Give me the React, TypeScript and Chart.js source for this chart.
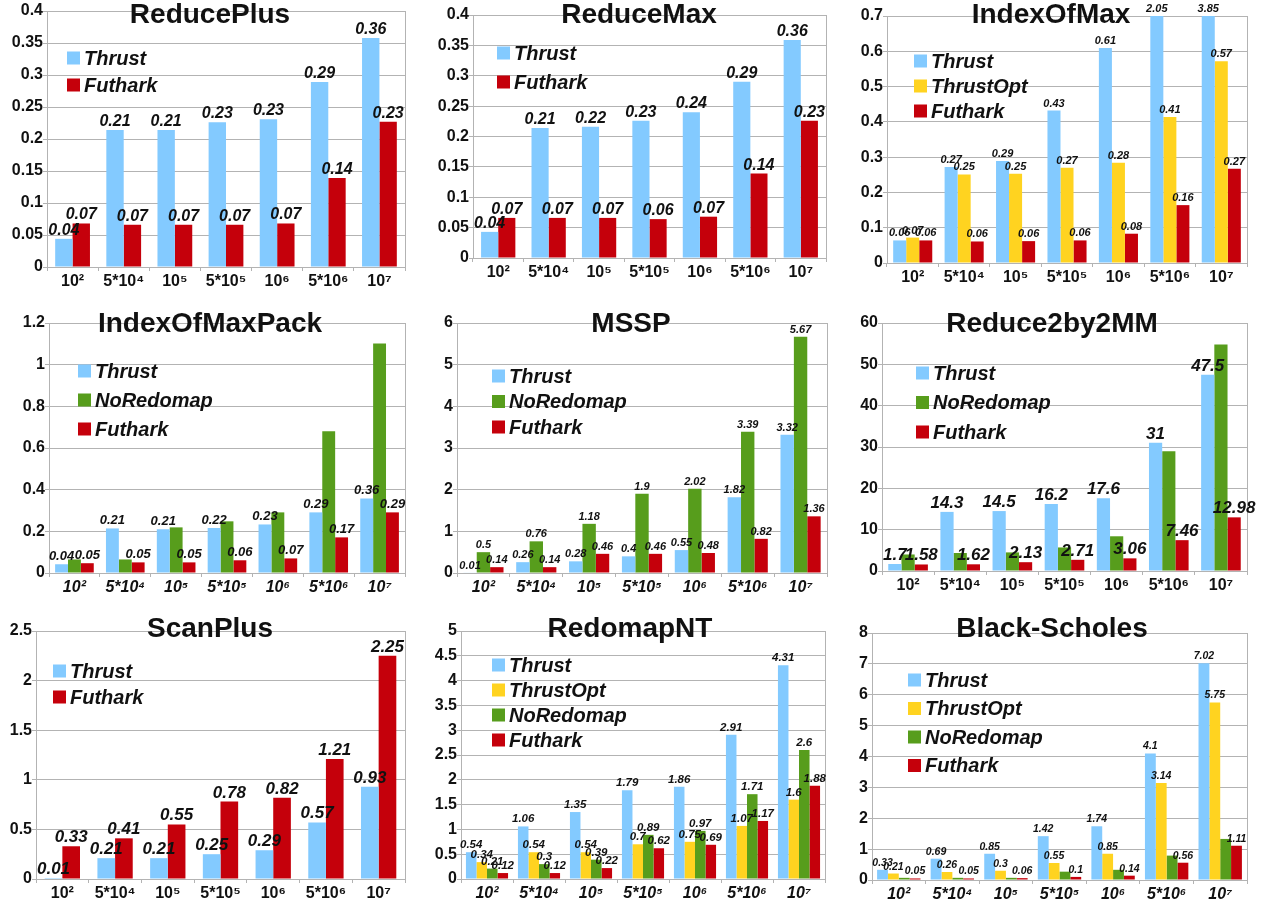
import React, { useEffect, useRef } from "react";
import { Chart, registerables } from "chart.js";

Chart.register(...registerables);

// ---------- data ----------
const categories = ["10²", "5*10⁴", "10⁵", "5*10⁵", "10⁶", "5*10⁶", "10⁷"];

const rpThrust = [0.044, 0.214, 0.214, 0.226, 0.231, 0.289, 0.358];
const rpFuthark = [0.068, 0.066, 0.066, 0.066, 0.068, 0.139, 0.227];

const rmThrust = [0.043, 0.214, 0.216, 0.226, 0.24, 0.29, 0.359];
const rmFuthark = [0.066, 0.066, 0.066, 0.064, 0.068, 0.139, 0.226];

const imThrust = [0.064, 0.272, 0.289, 0.432, 0.609, 2.05, 3.85];
const imThrustOpt = [0.072, 0.251, 0.253, 0.27, 0.284, 0.414, 0.572];
const imFuthark = [0.064, 0.061, 0.062, 0.064, 0.083, 0.164, 0.267];

const impThrust = [0.042, 0.214, 0.21, 0.216, 0.233, 0.291, 0.358];
const impNoRedomap = [0.065, 0.065, 0.219, 0.248, 0.291, 0.68, 1.102];
const impFuthark = [0.047, 0.051, 0.051, 0.061, 0.07, 0.171, 0.291];

const msThrust = [0.01, 0.26, 0.28, 0.4, 0.55, 1.82, 3.32];
const msNoRedomap = [0.5, 0.76, 1.18, 1.9, 2.02, 3.39, 5.67];
const msFuthark = [0.14, 0.14, 0.46, 0.46, 0.48, 0.82, 1.36];

const r2Thrust = [1.7, 14.3, 14.5, 16.2, 17.6, 31, 47.5];
const r2NoRedomap = [4.0, 4.35, 4.5, 5.7, 8.4, 29, 54.8];
const r2Futhark = [1.58, 1.62, 2.13, 2.71, 3.06, 7.46, 12.98];

const spThrust = [0.01, 0.21, 0.21, 0.25, 0.29, 0.57, 0.93];
const spFuthark = [0.33, 0.41, 0.55, 0.78, 0.82, 1.21, 2.25];

const rnThrust = [0.54, 1.06, 1.35, 1.79, 1.86, 2.91, 4.31];
const rnThrustOpt = [0.34, 0.54, 0.54, 0.7, 0.75, 1.07, 1.6];
const rnNoRedomap = [0.21, 0.3, 0.39, 0.89, 0.97, 1.71, 2.6];
const rnFuthark = [0.12, 0.12, 0.22, 0.62, 0.69, 1.17, 1.88];

const bsThrust = [0.33, 0.69, 0.85, 1.42, 1.74, 4.1, 7.02];
const bsThrustOpt = [0.21, 0.26, 0.3, 0.55, 0.85, 3.14, 5.75];
const bsNoRedomap = [0.07, 0.07, 0.07, 0.27, 0.33, 0.79, 1.33];
const bsFuthark = [0.05, 0.05, 0.06, 0.1, 0.14, 0.56, 1.11];

// ---------- styles ----------
const COLORS: Record<string, string> = {
  Thrust: "#83caff",
  ThrustOpt: "#ffd320",
  NoRedomap: "#579d1c",
  Futhark: "#c5000b",
};
const FONT = '"Liberation Sans", Arial, Helvetica, sans-serif';
const TEXT = "#111111";
const GRID = "#b3b3b3";

const fmt = (v: number) => String(parseFloat(Number(v).toFixed(2)));

type Series = { name: string; values: number[]; labels: boolean };
type PanelSpec = {
  title: string;
  series: Series[];
  yMax: number;
  yStep: number;
  cell: [number, number, number, number];
  plot: [number, number, number, number];
  titlePos: [number, number];
  legend: [number, number, number];
  labelSize: number;
  italicX: boolean;
  catPct: number;
};

const S = (name: string, values: number[], labels = true): Series => ({ name, values, labels });

const panels: PanelSpec[] = [
  {
    title: "ReducePlus",
    series: [S("Thrust", rpThrust), S("Futhark", rpFuthark)],
    yMax: 0.4, yStep: 0.05,
    cell: [0, 0, 420, 300], plot: [47, 11, 405, 267],
    titlePos: [210, 23], legend: [67, 58, 27],
    labelSize: 16, italicX: false, catPct: 0.68,
  },
  {
    title: "ReduceMax",
    series: [S("Thrust", rmThrust), S("Futhark", rmFuthark)],
    yMax: 0.4, yStep: 0.05,
    cell: [420, 0, 420, 300], plot: [473, 15, 826, 258],
    titlePos: [639, 23], legend: [497, 53, 29],
    labelSize: 16, italicX: false, catPct: 0.68,
  },
  {
    title: "IndexOfMax",
    series: [S("Thrust", imThrust), S("ThrustOpt", imThrustOpt), S("Futhark", imFuthark)],
    yMax: 0.7, yStep: 0.1,
    cell: [840, 0, 422, 300], plot: [887, 16, 1247, 263],
    titlePos: [1051, 23], legend: [914, 61, 25],
    labelSize: 11, italicX: false, catPct: 0.76,
  },
  {
    title: "IndexOfMaxPack",
    series: [S("Thrust", impThrust), S("NoRedomap", impNoRedomap, false), S("Futhark", impFuthark)],
    yMax: 1.2, yStep: 0.2,
    cell: [0, 300, 420, 308], plot: [49, 323, 405, 573],
    titlePos: [210, 332], legend: [78, 371, 29],
    labelSize: 13, italicX: true, catPct: 0.76,
  },
  {
    title: "MSSP",
    series: [S("Thrust", msThrust), S("NoRedomap", msNoRedomap), S("Futhark", msFuthark)],
    yMax: 6, yStep: 1,
    cell: [420, 300, 420, 308], plot: [457, 323, 827, 573],
    titlePos: [631, 332], legend: [492, 376, 25.5],
    labelSize: 11, italicX: true, catPct: 0.76,
  },
  {
    title: "Reduce2by2MM",
    series: [S("Thrust", r2Thrust), S("NoRedomap", r2NoRedomap, false), S("Futhark", r2Futhark)],
    yMax: 60, yStep: 10,
    cell: [840, 300, 422, 308], plot: [882, 323, 1247, 571],
    titlePos: [1052, 332], legend: [916, 373, 29.5],
    labelSize: 17, italicX: false, catPct: 0.76,
  },
  {
    title: "ScanPlus",
    series: [S("Thrust", spThrust), S("Futhark", spFuthark)],
    yMax: 2.5, yStep: 0.5,
    cell: [0, 608, 420, 294], plot: [36, 631, 405, 879],
    titlePos: [210, 637], legend: [53, 671, 26],
    labelSize: 17, italicX: false, catPct: 0.67,
  },
  {
    title: "RedomapNT",
    series: [
      S("Thrust", rnThrust), S("ThrustOpt", rnThrustOpt),
      S("NoRedomap", rnNoRedomap), S("Futhark", rnFuthark),
    ],
    yMax: 5, yStep: 0.5,
    cell: [420, 608, 420, 294], plot: [461, 631, 825, 879],
    titlePos: [630, 637], legend: [492, 665, 25],
    labelSize: 11.5, italicX: true, catPct: 0.81,
  },
  {
    title: "Black-Scholes",
    series: [
      S("Thrust", bsThrust), S("ThrustOpt", bsThrustOpt),
      S("NoRedomap", bsNoRedomap, false), S("Futhark", bsFuthark),
    ],
    yMax: 8, yStep: 1,
    cell: [840, 608, 422, 294], plot: [872, 633, 1247, 880],
    titlePos: [1052, 637], legend: [908, 680, 28.5],
    labelSize: 10.5, italicX: true, catPct: 0.81,
  },
];

const decorPlugin = {
  id: "decor",
  afterDatasetsDraw(chart: any, _args: any, opts: any) {
    const ctx = chart.ctx as CanvasRenderingContext2D;
    const area = chart.chartArea;
    ctx.save();
    // right border of plot area
    ctx.strokeStyle = GRID;
    ctx.lineWidth = 1;
    ctx.beginPath();
    ctx.moveTo(Math.round(area.right) + 0.5, area.top);
    ctx.lineTo(Math.round(area.right) + 0.5, area.bottom);
    ctx.stroke();
    // value labels
    ctx.font = `italic bold ${opts.labelSize}px ${FONT}`;
    ctx.fillStyle = TEXT;
    ctx.textAlign = "center";
    ctx.textBaseline = "alphabetic";
    chart.data.datasets.forEach((ds: any, i: number) => {
      if (!opts.showLabels[i]) return;
      const meta = chart.getDatasetMeta(i);
      meta.data.forEach((bar: any, j: number) => {
        const y = Math.max(bar.y, area.top);
        ctx.fillText(fmt(ds.data[j]), bar.x, y - 4);
      });
    });
    ctx.restore();
  },
  afterDraw(chart: any, _args: any, opts: any) {
    const ctx = chart.ctx as CanvasRenderingContext2D;
    ctx.save();
    // title
    ctx.font = `bold 28px ${FONT}`;
    ctx.fillStyle = TEXT;
    ctx.textAlign = "center";
    ctx.textBaseline = "alphabetic";
    ctx.fillText(opts.title, opts.titleX, opts.titleY);
    // legend
    const [lx, ly, step] = opts.legend;
    ctx.font = `italic bold 20px ${FONT}`;
    ctx.textAlign = "left";
    ctx.textBaseline = "middle";
    chart.data.datasets.forEach((ds: any, i: number) => {
      const cy = ly + i * step;
      ctx.fillStyle = ds.backgroundColor;
      ctx.fillRect(lx, cy - 6.5, 13, 13);
      ctx.fillStyle = TEXT;
      ctx.fillText(ds.label, lx + 17, cy + 1);
    });
    ctx.restore();
  },
};

function Panel({ spec }: { spec: PanelSpec }) {
  const ref = useRef<HTMLCanvasElement>(null);
  useEffect(() => {
    if (!ref.current) return;
    const [cl, ct, cw, ch] = spec.cell;
    const [x0, y0, x1, y1] = spec.plot;
    const yAxisW = x0 - cl;
    const xAxisH = ct + ch - y1;
    const chart = new Chart(ref.current, {
      type: "bar",
      data: {
        labels: categories,
        datasets: spec.series.map((s) => ({
          label: s.name,
          data: s.values,
          backgroundColor: COLORS[s.name],
          borderWidth: 0,
          categoryPercentage: spec.catPct,
          barPercentage: 1,
          clip: 0,
        })),
      },
      options: {
        responsive: false,
        animation: false,
        events: [],
        layout: { padding: { top: y0 - ct, right: cl + cw - x1, left: 0, bottom: 0 } },
        plugins: {
          legend: { display: false },
          tooltip: { enabled: false },
          title: { display: false },
          decor: {
            labelSize: spec.labelSize,
            showLabels: spec.series.map((s) => s.labels),
            title: spec.title,
            titleX: spec.titlePos[0] - cl,
            titleY: spec.titlePos[1] - ct,
            legend: [spec.legend[0] - cl, spec.legend[1] - ct, spec.legend[2]],
          },
        } as any,
        scales: {
          x: {
            grid: {
              display: true,
              drawOnChartArea: false,
              drawTicks: true,
              tickLength: 4,
              color: GRID,
              offset: true,
            },
            border: { color: GRID },
            ticks: {
              color: TEXT,
              padding: 1,
              maxRotation: 0,
              autoSkip: false,
              font: { family: FONT, size: 16, weight: "bold", style: spec.italicX ? "italic" : "normal" },
            },
            afterFit: (s: any) => {
              s.height = xAxisH;
            },
          },
          y: {
            min: 0,
            max: spec.yMax,
            grid: { color: GRID, tickLength: 4 },
            border: { color: GRID },
            ticks: {
              stepSize: spec.yStep,
              color: TEXT,
              padding: 0,
              font: { family: FONT, size: 16, weight: "bold" },
              callback: (v: any) => fmt(Number(v)),
            },
            afterFit: (s: any) => {
              s.width = yAxisW;
            },
          },
        },
      } as any,
      plugins: [decorPlugin as any],
    });
    return () => chart.destroy();
  }, [spec]);
  const [cl, ct, cw, ch] = spec.cell;
  return (
    <canvas
      ref={ref}
      width={cw}
      height={ch}
      style={{ position: "absolute", left: cl, top: ct, width: cw, height: ch, display: "block" }}
    />
  );
}

export default function App() {
  return (
    <div
      style={{
        position: "absolute",
        left: 0,
        top: 0,
        width: 1262,
        height: 902,
        background: "#ffffff",
        overflow: "hidden",
      }}
    >
      {panels.map((p) => (
        <Panel key={p.title} spec={p} />
      ))}
    </div>
  );
}
